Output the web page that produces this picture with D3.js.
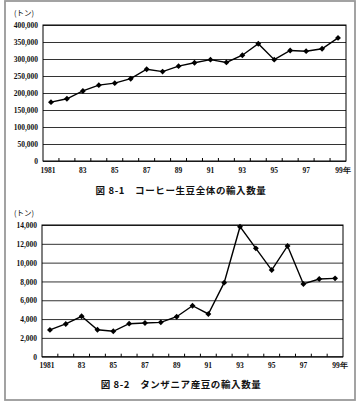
<!DOCTYPE html>
<html><head><meta charset="utf-8">
<script src="https://cdn.jsdelivr.net/npm/d3@7"></script>
<style>
html,body{margin:0;padding:0;background:#fff;}
svg{display:block;}
.num{font-family:"Liberation Serif","DejaVu Serif",serif;font-weight:bold;fill:#111;}
.jp{font-family:"Noto Sans CJK JP",sans-serif;fill:#111;}
</style>
</head><body>
<svg id="c" width="360" height="408"></svg>
<script>
const years = ["1981","1982","1983","1984","1985","1986","1987","1988","1989","1990","1991","1992","1993","1994","1995","1996","1997","1998","1999"];
const xTickLabels = {"1981":"1981","1983":"83","1985":"85","1987":"87","1989":"89","1991":"91","1993":"93","1995":"95","1997":"97","1999":"99年"};
const coffeeTotal = [173000,183000,206000,223000,229000,242000,270000,263000,279000,289000,298000,290000,311000,345000,298000,325000,323000,330000,362000];
const tanzania = [2850,3480,4300,2870,2700,3510,3580,3650,4250,5420,4540,7870,13820,11520,9210,11770,7730,8260,8330];
const yTicks1 = [0,50000,100000,150000,200000,250000,300000,350000,400000];
const yTicks2 = [0,2000,4000,6000,8000,10000,12000,14000];
const unitLabel = "(トン)";
const title1 = "図 8-1　コーヒー生豆全体の輸入数量";
const title2 = "図 8-2　タンザニア産豆の輸入数量";

const svg = d3.select("#c");
// outer frame
svg.append("rect").attr("x",5).attr("y",1).attr("width",350).attr("height",399)
  .attr("fill","none").attr("stroke","#999").attr("stroke-width",1.8);

function drawChart(cfg){
  const g = svg.append("g");
  const x = d3.scaleBand().domain(years).range([cfg.left,cfg.right]).padding(0);
  const y = d3.scaleLinear().domain([0,cfg.max]).range([cfg.bottom,cfg.top]);
  // gridlines
  g.append("g").attr("transform",`translate(${cfg.left},0)`)
    .call(d3.axisLeft(y).tickValues(cfg.ticks).tickSize(-(cfg.right-cfg.left)).tickFormat(""))
    .call(s=>s.select(".domain").remove())
    .call(s=>s.selectAll("line").attr("stroke","#333").attr("stroke-width",1));
  // y labels
  g.append("g").attr("transform",`translate(${cfg.left-5},0)`)
    .call(d3.axisLeft(y).tickValues(cfg.ticks).tickSize(0).tickFormat(d3.format(",")))
    .call(s=>s.select(".domain").remove())
    .call(s=>s.selectAll("text").attr("class","num").attr("font-size",7.5).attr("x",0).attr("dy","0.34em"));
  // frame
  g.append("rect").attr("x",cfg.left).attr("y",cfg.top).attr("width",cfg.right-cfg.left).attr("height",cfg.bottom-cfg.top)
    .attr("fill","none").attr("stroke","#000").attr("stroke-width",1);
  // x ticks at band boundaries (inside)
  const bounds = years.slice(1).map(d=>x(d));
  g.selectAll(".xt").data(bounds).join("line")
    .attr("x1",d=>d).attr("x2",d=>d).attr("y1",cfg.bottom).attr("y2",cfg.bottom-3)
    .attr("stroke","#000").attr("stroke-width",1);
  // x labels
  const half = x.bandwidth()/2;
  g.selectAll(".xl").data(years.filter(d=>xTickLabels[d])).join("text")
    .attr("class","num").attr("font-size",7.5)
    .attr("x",d=> x(d)+half + (d==="1999"?5:(d==="1981"?-3:0)))
    .attr("y",cfg.bottom+11.5).attr("text-anchor","middle")
    .text(d=>xTickLabels[d]);
  // line
  const line = d3.line().x((d,i)=>x(years[i])+half).y(d=>y(d));
  g.append("path").datum(cfg.data).attr("d",line).attr("fill","none").attr("stroke","#000").attr("stroke-width",1.4);
  const sym = d3.symbol().type(d3.symbolDiamond2).size(22);
  g.selectAll(".pt").data(cfg.data).join("path")
    .attr("transform",(d,i)=>`translate(${x(years[i])+half},${y(d)})`)
    .attr("d",sym).attr("fill","#000");
  // unit label
  g.append("text").attr("class","jp").attr("font-size",7.5).attr("x",14).attr("y",cfg.top-9).text(unitLabel);
  // title
  g.append("text").attr("class","jp").attr("font-size",9.5).attr("font-weight","bold")
    .attr("x",181).attr("y",cfg.titleY).attr("text-anchor","middle").attr("letter-spacing",0.6).text(cfg.title);
}

drawChart({left:43,right:346,top:25,bottom:161,max:400000,ticks:yTicks1,data:coffeeTotal,title:title1,titleY:194});
drawChart({left:42,right:343,top:225,bottom:356.7,max:14000,ticks:yTicks2,data:tanzania,title:title2,titleY:387.5});
</script>
</body></html>
